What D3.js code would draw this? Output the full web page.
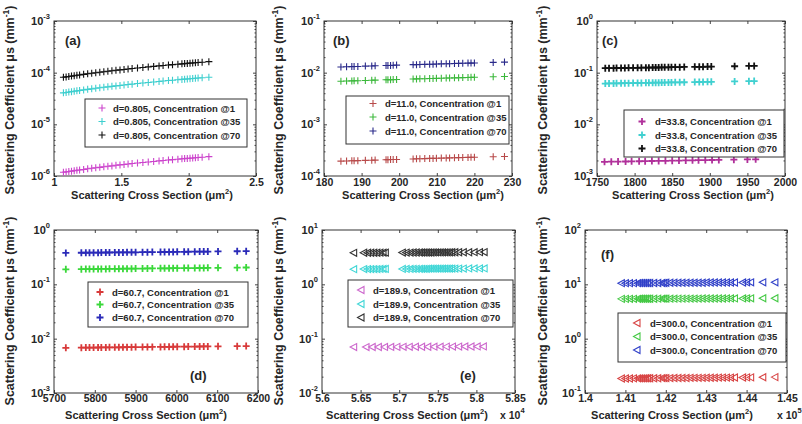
<!DOCTYPE html>
<html>
<head>
<meta charset="utf-8">
<script src="https://cdn.jsdelivr.net/npm/d3@7"></script>
<style>
  body { margin: 0; background: #fff; }
  svg { display: block; font-family: "Liberation Sans", Arial, sans-serif; font-weight: bold; }
</style>
</head>
<body>
<script>

// ---- data ----

// (a) d = 0.805
const aX = [1.07, 1.09, 1.11, 1.13, 1.15, 1.17, 1.19, 1.22, 1.25, 1.28, 1.31, 1.34, 1.37, 1.40, 1.43, 1.46, 1.49, 1.52, 1.55, 1.58, 1.62, 1.66, 1.70, 1.74, 1.78, 1.81, 1.85, 1.88, 1.92, 1.95, 1.97, 1.99, 2.01, 2.03, 2.05, 2.07, 2.10, 2.15];
const aY1 = [1.18e-6, 1.20e-6, 1.22e-6, 1.24e-6, 1.27e-6, 1.29e-6, 1.31e-6, 1.34e-6, 1.38e-6, 1.41e-6, 1.44e-6, 1.47e-6, 1.51e-6, 1.54e-6, 1.57e-6, 1.61e-6, 1.64e-6, 1.67e-6, 1.71e-6, 1.74e-6, 1.78e-6, 1.83e-6, 1.87e-6, 1.91e-6, 1.96e-6, 1.99e-6, 2.04e-6, 2.07e-6, 2.11e-6, 2.15e-6, 2.17e-6, 2.19e-6, 2.21e-6, 2.23e-6, 2.26e-6, 2.28e-6, 2.31e-6, 2.37e-6];
const aY35 = [4.07e-5, 4.14e-5, 4.22e-5, 4.29e-5, 4.37e-5, 4.45e-5, 4.52e-5, 4.64e-5, 4.75e-5, 4.86e-5, 4.98e-5, 5.09e-5, 5.21e-5, 5.32e-5, 5.43e-5, 5.55e-5, 5.66e-5, 5.78e-5, 5.89e-5, 6.00e-5, 6.16e-5, 6.31e-5, 6.46e-5, 6.61e-5, 6.76e-5, 6.88e-5, 7.03e-5, 7.14e-5, 7.30e-5, 7.41e-5, 7.49e-5, 7.56e-5, 7.64e-5, 7.71e-5, 7.79e-5, 7.87e-5, 7.98e-5, 8.17e-5];
const aY70 = [8.13e-5, 8.28e-5, 8.44e-5, 8.59e-5, 8.74e-5, 8.89e-5, 9.04e-5, 9.27e-5, 9.50e-5, 9.73e-5, 9.96e-5, 1.018e-4, 1.041e-4, 1.064e-4, 1.087e-4, 1.110e-4, 1.132e-4, 1.155e-4, 1.178e-4, 1.201e-4, 1.231e-4, 1.262e-4, 1.292e-4, 1.322e-4, 1.353e-4, 1.376e-4, 1.406e-4, 1.429e-4, 1.459e-4, 1.482e-4, 1.497e-4, 1.512e-4, 1.528e-4, 1.543e-4, 1.558e-4, 1.573e-4, 1.596e-4, 1.634e-4];

// (b) d = 11.0
const bX = [184.5, 186, 187.4, 188, 189, 191, 192.7, 193.6, 196.5, 197, 197.7, 198.4, 199.3, 203.7, 204.6, 205.5, 206.8, 208.1, 209, 209.9, 211.2, 212.5, 213.4, 214.7, 215.8, 216.9, 218.3, 219.1, 220, 225, 228];
const bY1 = [1.94e-4, 1.95e-4, 1.97e-4, 1.97e-4, 1.98e-4, 2.01e-4, 2.02e-4, 2.03e-4, 2.06e-4, 2.07e-4, 2.08e-4, 2.08e-4, 2.09e-4, 2.14e-4, 2.15e-4, 2.16e-4, 2.17e-4, 2.19e-4, 2.19e-4, 2.20e-4, 2.22e-4, 2.23e-4, 2.24e-4, 2.25e-4, 2.27e-4, 2.28e-4, 2.29e-4, 2.30e-4, 2.31e-4, 2.36e-4, 2.39e-4];
const bY35 = [6.83e-3, 6.88e-3, 6.93e-3, 6.96e-3, 6.99e-3, 7.07e-3, 7.13e-3, 7.16e-3, 7.27e-3, 7.29e-3, 7.31e-3, 7.34e-3, 7.37e-3, 7.54e-3, 7.57e-3, 7.60e-3, 7.65e-3, 7.70e-3, 7.73e-3, 7.77e-3, 7.81e-3, 7.86e-3, 7.90e-3, 7.94e-3, 7.98e-3, 8.03e-3, 8.08e-3, 8.11e-3, 8.14e-3, 8.33e-3, 8.44e-3];
const bY70 = [1.29e-2, 1.30e-2, 1.31e-2, 1.32e-2, 1.32e-2, 1.34e-2, 1.35e-2, 1.36e-2, 1.38e-2, 1.38e-2, 1.38e-2, 1.39e-2, 1.40e-2, 1.43e-2, 1.43e-2, 1.44e-2, 1.45e-2, 1.46e-2, 1.46e-2, 1.47e-2, 1.48e-2, 1.49e-2, 1.49e-2, 1.50e-2, 1.51e-2, 1.52e-2, 1.53e-2, 1.53e-2, 1.54e-2, 1.58e-2, 1.60e-2];

// (c) d = 33.8
const cX1 = [1760, 1769, 1778, 1788, 1796, 1806, 1814, 1823, 1832, 1841, 1850, 1859, 1868, 1877, 1885, 1894, 1903, 1912, 1932, 1950, 1961];
const cY1 = [1.88e-3, 1.89e-3, 1.90e-3, 1.91e-3, 1.92e-3, 1.93e-3, 1.94e-3, 1.95e-3, 1.96e-3, 1.97e-3, 1.98e-3, 1.99e-3, 2.00e-3, 2.01e-3, 2.02e-3, 2.03e-3, 2.04e-3, 2.05e-3, 2.07e-3, 2.09e-3, 2.10e-3];
const cX = [1761, 1766, 1772, 1776, 1782, 1787, 1792, 1798, 1804, 1809, 1815, 1819, 1824, 1828, 1832, 1836, 1840, 1845, 1849, 1854, 1860, 1866, 1880, 1886, 1891, 1897, 1902, 1933, 1952, 1959];
const cY35 = [6.16e-2, 6.18e-2, 6.20e-2, 6.22e-2, 6.24e-2, 6.25e-2, 6.27e-2, 6.29e-2, 6.31e-2, 6.33e-2, 6.35e-2, 6.37e-2, 6.38e-2, 6.40e-2, 6.41e-2, 6.43e-2, 6.44e-2, 6.46e-2, 6.47e-2, 6.49e-2, 6.51e-2, 6.53e-2, 6.58e-2, 6.60e-2, 6.62e-2, 6.64e-2, 6.66e-2, 6.77e-2, 6.83e-2, 6.86e-2];
const cY70 = [0.122, 0.122, 0.122, 0.123, 0.123, 0.123, 0.124, 0.124, 0.124, 0.125, 0.125, 0.125, 0.126, 0.126, 0.126, 0.127, 0.127, 0.127, 0.128, 0.128, 0.128, 0.129, 0.130, 0.130, 0.130, 0.131, 0.131, 0.133, 0.135, 0.135];

// (d) d = 60.7
const dX = [5729, 5767, 5778, 5787, 5797, 5808, 5816, 5827, 5836, 5849, 5859, 5869, 5879, 5890, 5900, 5917, 5929, 5941, 5961, 5971, 5982, 5992, 6002, 6019, 6029, 6045, 6057, 6067, 6077, 6102, 6149, 6171];
const dY1 = [6.79e-3, 6.83e-3, 6.85e-3, 6.86e-3, 6.87e-3, 6.88e-3, 6.89e-3, 6.90e-3, 6.92e-3, 6.93e-3, 6.94e-3, 6.95e-3, 6.97e-3, 6.98e-3, 6.99e-3, 7.01e-3, 7.03e-3, 7.04e-3, 7.06e-3, 7.08e-3, 7.09e-3, 7.10e-3, 7.11e-3, 7.13e-3, 7.14e-3, 7.16e-3, 7.18e-3, 7.19e-3, 7.20e-3, 7.23e-3, 7.29e-3, 7.31e-3];
const dY35 = [0.189, 0.190, 0.191, 0.191, 0.191, 0.192, 0.192, 0.192, 0.193, 0.193, 0.193, 0.194, 0.194, 0.194, 0.195, 0.195, 0.196, 0.196, 0.197, 0.197, 0.197, 0.198, 0.198, 0.199, 0.199, 0.199, 0.200, 0.200, 0.201, 0.201, 0.203, 0.204];
const dY70 = [0.378, 0.381, 0.381, 0.382, 0.383, 0.383, 0.384, 0.385, 0.385, 0.386, 0.387, 0.387, 0.388, 0.389, 0.389, 0.390, 0.391, 0.392, 0.393, 0.394, 0.395, 0.395, 0.396, 0.397, 0.398, 0.399, 0.400, 0.400, 0.401, 0.403, 0.406, 0.407];

// (e) d = 189.9  (x in units of 10^4)
const eX1 = [5.641, 5.657, 5.665, 5.673, 5.681, 5.689, 5.697, 5.705, 5.713, 5.721, 5.729, 5.737, 5.745, 5.753, 5.761, 5.769, 5.777, 5.785, 5.793, 5.801, 5.809];
const eY1 = [7.00e-2, 7.01e-2, 7.02e-2, 7.03e-2, 7.04e-2, 7.05e-2, 7.06e-2, 7.07e-2, 7.08e-2, 7.09e-2, 7.10e-2, 7.11e-2, 7.12e-2, 7.13e-2, 7.14e-2, 7.15e-2, 7.16e-2, 7.17e-2, 7.18e-2, 7.19e-2, 7.20e-2];
const eX = [5.641, 5.654, 5.659, 5.663, 5.667, 5.671, 5.675, 5.679, 5.682, 5.704, 5.709, 5.714, 5.718, 5.722, 5.726, 5.729, 5.732, 5.735, 5.738, 5.741, 5.744, 5.747, 5.750, 5.753, 5.756, 5.759, 5.762, 5.765, 5.768, 5.772, 5.777, 5.783, 5.790, 5.797, 5.804, 5.810];
const eY35 = [1.90, 1.91, 1.91, 1.91, 1.91, 1.91, 1.92, 1.92, 1.92, 1.92, 1.92, 1.92, 1.93, 1.93, 1.93, 1.93, 1.93, 1.93, 1.94, 1.94, 1.94, 1.94, 1.94, 1.94, 1.94, 1.95, 1.95, 1.95, 1.95, 1.95, 1.95, 1.95, 1.96, 1.96, 1.96, 1.96];
const eY70 = [3.80, 3.81, 3.81, 3.82, 3.82, 3.82, 3.83, 3.83, 3.83, 3.84, 3.84, 3.84, 3.85, 3.85, 3.85, 3.85, 3.86, 3.86, 3.86, 3.86, 3.87, 3.87, 3.87, 3.87, 3.88, 3.88, 3.88, 3.88, 3.89, 3.89, 3.89, 3.90, 3.90, 3.91, 3.91, 3.92];

// (f) d = 300.0  (x in units of 10^5)
const fX = [1.409, 1.410, 1.411, 1.412, 1.413, 1.4135, 1.414, 1.4145, 1.415, 1.4155, 1.416, 1.417, 1.418, 1.419, 1.4195, 1.420, 1.421, 1.422, 1.423, 1.424, 1.425, 1.426, 1.427, 1.428, 1.429, 1.430, 1.431, 1.432, 1.433, 1.434, 1.435, 1.436, 1.437, 1.439, 1.440, 1.441, 1.444, 1.447];
const fY1 = [0.185, 0.185, 0.185, 0.186, 0.186, 0.186, 0.186, 0.186, 0.187, 0.187, 0.187, 0.187, 0.187, 0.188, 0.188, 0.188, 0.188, 0.189, 0.189, 0.189, 0.189, 0.190, 0.190, 0.190, 0.190, 0.191, 0.191, 0.191, 0.192, 0.192, 0.192, 0.192, 0.193, 0.193, 0.194, 0.194, 0.195, 0.196];
const fY35 = [5.40, 5.40, 5.41, 5.41, 5.41, 5.42, 5.42, 5.42, 5.42, 5.43, 5.43, 5.43, 5.44, 5.44, 5.44, 5.45, 5.45, 5.45, 5.46, 5.46, 5.46, 5.47, 5.47, 5.47, 5.48, 5.48, 5.48, 5.49, 5.49, 5.49, 5.50, 5.50, 5.51, 5.51, 5.52, 5.52, 5.54, 5.55];
const fY70 = [10.5, 10.5, 10.5, 10.5, 10.5, 10.6, 10.6, 10.6, 10.6, 10.6, 10.6, 10.6, 10.6, 10.6, 10.6, 10.7, 10.7, 10.7, 10.7, 10.7, 10.7, 10.7, 10.7, 10.7, 10.7, 10.8, 10.8, 10.8, 10.8, 10.8, 10.8, 10.8, 10.8, 10.8, 10.9, 10.9, 10.9, 10.9];

// tick values
const aTicks = [1, 1.5, 2, 2.5];
const bTicks = [180, 190, 200, 210, 220, 230];
const cTicks = [1750, 1800, 1850, 1900, 1950, 2000];
const dTicks = [5700, 5800, 5900, 6000, 6100, 6200];
const eTicks = [5.6, 5.65, 5.7, 5.75, 5.8, 5.85];
const fTicks = [1.4, 1.41, 1.42, 1.43, 1.44, 1.45];

const concLabels = ['Concentration @1', 'Concentration @35', 'Concentration @70'];


// ---- panels ----

const panels = [
    {
        tag: '(a)', tagPos: [65, 45], box: [54, 21, 256, 176],
        xDomain: [1, 2.5], xTicks: aTicks, yDomain: [1e-6, 1e-3], xLabelX: 152,
        legend: { box: [85, 99, 162, 48], mx: 17, tx: 28, rows: [9, 22.5, 36] },
        series: [
            { x: aX, y: aY1, color: '#cc44cc', mark: 'plus', name: 'd=0.805, ' + concLabels[0] },
            { x: aX, y: aY35, color: '#3fcfcf', mark: 'plus', name: 'd=0.805, ' + concLabels[1] },
            { x: aX, y: aY70, color: '#111111', mark: 'plus', name: 'd=0.805, ' + concLabels[2] }
        ]
    },
    {
        tag: '(b)', tagPos: [333, 45], box: [324, 21, 512, 176],
        xDomain: [180, 230], xTicks: bTicks, yDomain: [1e-4, 1e-1], xLabelX: 423,
        legend: { box: [346, 96, 163, 48], mx: 27, tx: 39, rows: [7.5, 21, 35] },
        series: [
            { x: bX, y: bY1, color: '#b84a4a', mark: 'plus', name: 'd=11.0, ' + concLabels[0] },
            { x: bX, y: bY35, color: '#3cb83c', mark: 'plus', name: 'd=11.0, ' + concLabels[1] },
            { x: bX, y: bY70, color: '#2a2a8a', mark: 'plus', name: 'd=11.0, ' + concLabels[2] }
        ]
    },
    {
        tag: '(c)', tagPos: [602, 45], box: [597, 21, 785, 176],
        xDomain: [1750, 2000], xTicks: cTicks, yDomain: [1e-3, 1], xLabelX: 693,
        legend: { box: [624, 110, 160, 47], mx: 18, tx: 31, rows: [11.5, 25, 38.5] },
        series: [
            { x: cX1, y: cY1, color: '#b0309a', mark: 'bold', name: 'd=33.8, ' + concLabels[0] },
            { x: cX, y: cY35, color: '#40d0d0', mark: 'bold', name: 'd=33.8, ' + concLabels[1] },
            { x: cX, y: cY70, color: '#111111', mark: 'bold', name: 'd=33.8, ' + concLabels[2] }
        ]
    },
    {
        tag: '(d)', tagPos: [190, 380], box: [54, 230, 258, 393],
        xDomain: [5700, 6200], xTicks: dTicks, yDomain: [1e-3, 1], xLabelX: 146,
        legend: { box: [88, 282, 160, 45], mx: 12, tx: 24, rows: [10, 22.5, 35.5] },
        series: [
            { x: dX, y: dY1, color: '#d83a3a', mark: 'bold', name: 'd=60.7, ' + concLabels[0] },
            { x: dX, y: dY35, color: '#3ad83a', mark: 'bold', name: 'd=60.7, ' + concLabels[1] },
            { x: dX, y: dY70, color: '#2a2ab8', mark: 'bold', name: 'd=60.7, ' + concLabels[2] }
        ]
    },
    {
        tag: '(e)', tagPos: [460, 380], box: [322, 230, 515, 393],
        xDomain: [5.6, 5.85], xTicks: eTicks, yDomain: [1e-2, 10], xLabelX: 407, xExp: ['4', 500],
        legend: { box: [348, 280, 165, 47], mx: 13, tx: 25, rows: [10, 24, 37.5] },
        series: [
            { x: eX1, y: eY1, color: '#cc66cc', mark: 'tri', name: 'd=189.9, ' + concLabels[0] },
            { x: eX, y: eY35, color: '#3fd6d6', mark: 'tri', name: 'd=189.9, ' + concLabels[1] },
            { x: eX, y: eY70, color: '#333333', mark: 'tri', name: 'd=189.9, ' + concLabels[2] }
        ]
    },
    {
        tag: '(f)', tagPos: [601, 259], box: [585, 230, 787, 393],
        xDomain: [1.4, 1.45], xTicks: fTicks, yDomain: [1e-1, 100], xLabelX: 672, xExp: ['5', 777],
        legend: { box: [618, 313, 168, 49], mx: 19, tx: 32, rows: [10, 23.5, 37] },
        series: [
            { x: fX, y: fY1, color: '#d84444', mark: 'tri', name: 'd=300.0, ' + concLabels[0] },
            { x: fX, y: fY35, color: '#44c844', mark: 'tri', name: 'd=300.0, ' + concLabels[1] },
            { x: fX, y: fY70, color: '#3040c8', mark: 'tri', name: 'd=300.0, ' + concLabels[2] }
        ]
    }
];

const ink = '#262626';

const markPath = {
    plus: 'M-3.5,0H3.5M0,-3.5V3.5',
    bold: 'M-3.5,0H3.5M0,-3.5V3.5',
    tri: 'M-3.5,0L3,-3.5L3,3.5Z'
};

const svg = d3.select('body').append('svg').attr('width', 802).attr('height', 424);


function drawMark(sel, mark, color) {
    sel.append('path')
        .attr('d', markPath[mark])
        .attr('fill', 'none')
        .attr('stroke', color)
        .attr('stroke-width', mark === 'bold' ? 1.8 : 1.1);
}


function drawPanel(p) {

    const [x0, y0, x1, y1] = p.box;
    const x = d3.scaleLinear().domain(p.xDomain).range([x0, x1]);
    const y = d3.scaleLog().domain(p.yDomain).range([y1, y0]);
    const top = y0 < 100;

    const g = svg.append('g');

    // minor log ticks
    const minors = [];
    const e0 = Math.round(Math.log10(p.yDomain[0]));
    const e1 = Math.round(Math.log10(p.yDomain[1]));
    for (let e = e0; e < e1; e++) {
        for (let m = 2; m <= 9; m++) minors.push(m * Math.pow(10, e));
    }
    const majors = d3.range(e0, e1 + 1).map(e => Math.pow(10, e));

    // axes: ticks point inside like matlab
    const xb = g.append('g').attr('transform', `translate(0,${y1})`)
        .call(d3.axisBottom(x).tickValues(p.xTicks).tickSize(-3).tickSizeOuter(0).tickPadding(top ? 3 : 2).tickFormat(d => String(d)));
    xb.selectAll('text').attr('font-size', 10.5).attr('font-family', null).attr('fill', ink);

    g.append('g').attr('transform', `translate(0,${y0})`)
        .call(d3.axisTop(x).tickValues(p.xTicks).tickSize(-3).tickSizeOuter(0).tickFormat(''));

    g.append('g').attr('transform', `translate(${x0},0)`)
        .call(d3.axisLeft(y).tickValues(majors).tickSize(-3).tickSizeOuter(0).tickFormat(''));
    g.append('g').attr('transform', `translate(${x1},0)`)
        .call(d3.axisRight(y).tickValues(majors).tickSize(-3).tickSizeOuter(0).tickFormat(''));
    g.append('g').attr('transform', `translate(${x0},0)`)
        .call(d3.axisLeft(y).tickValues(minors).tickSize(-1.5).tickSizeOuter(0).tickFormat(''));
    g.append('g').attr('transform', `translate(${x1},0)`)
        .call(d3.axisRight(y).tickValues(minors).tickSize(-1.5).tickSizeOuter(0).tickFormat(''));

    g.selectAll('.domain').remove();
    g.selectAll('.tick line').attr('stroke', '#444');

    // y tick labels 10^n
    const yl = g.append('g').selectAll('text').data(majors).join('text')
        .attr('x', x0 - 4)
        .attr('y', d => y(d) + 4)
        .attr('text-anchor', 'end')
        .attr('font-size', 11)
        .attr('fill', ink);
    yl.append('tspan').text('10');
    yl.append('tspan').attr('dy', -6).attr('font-size', 7.5).text(d => String(Math.round(Math.log10(d))));

    // box
    g.append('rect')
        .attr('x', x0).attr('y', y0)
        .attr('width', x1 - x0).attr('height', y1 - y0)
        .attr('fill', 'none').attr('stroke', '#333').attr('stroke-width', 1);

    // points
    p.series.forEach(s => {
        const pts = s.x.map((v, i) => [v, s.y[i]]);
        g.append('g').selectAll('g').data(pts).join('g')
            .attr('transform', d => `translate(${x(d[0])},${y(d[1])})`)
            .each(function () { drawMark(d3.select(this), s.mark, s.color); });
    });

    // legend
    const L = p.legend;
    const lg = g.append('g').attr('transform', `translate(${L.box[0]},${L.box[1]})`);
    lg.append('rect')
        .attr('width', L.box[2]).attr('height', L.box[3])
        .attr('fill', '#fff').attr('stroke', '#333').attr('stroke-width', 1);
    p.series.forEach((s, i) => {
        drawMark(lg.append('g').attr('transform', `translate(${L.mx},${L.rows[i]})`), s.mark, s.color);
        lg.append('text')
            .attr('x', L.tx).attr('y', L.rows[i] + 3.5)
            .attr('font-size', 9.5)
            .attr('fill', ink)
            .text(s.name);
    });

    // panel tag
    g.append('text')
        .attr('x', p.tagPos[0]).attr('y', p.tagPos[1])
        .attr('font-size', 13)
        .attr('fill', ink)
        .text(p.tag);

    // x label
    const labY = top ? 199 : 419;
    const xl = g.append('text')
        .attr('x', p.xLabelX).attr('y', labY)
        .attr('text-anchor', 'middle')
        .attr('font-size', 11)
        .attr('fill', ink);
    xl.append('tspan').text('Scattering Cross Section (\u03bcm');
    xl.append('tspan').attr('dy', -5).attr('font-size', 7.5).text('2');
    xl.append('tspan').attr('dy', 5).text(')');

    if (p.xExp) {
        const xe = g.append('text')
            .attr('x', p.xExp[1]).attr('y', labY)
            .attr('font-size', 10.5)
            .attr('fill', ink);
        xe.append('tspan').text('x 10');
        xe.append('tspan').attr('dy', -6).attr('font-size', 7.5).text(p.xExp[0]);
    }

    // y label
    const cx = x0 < 100 ? 14 : (x0 < 400 ? 283 : 547);
    const cy = top ? 100 : 311;
    const ylab = g.append('text')
        .attr('transform', `translate(${cx},${cy}) rotate(-90)`)
        .attr('text-anchor', 'middle')
        .attr('font-size', 12.5)
        .attr('fill', ink);
    ylab.append('tspan').text('Scattering Coefficient \u03bcs (mm');
    ylab.append('tspan').attr('dy', -5).attr('font-size', 8.5).text('-1');
    ylab.append('tspan').attr('dy', 5).text(')');
}

panels.forEach(drawPanel);

</script>
</body>
</html>
